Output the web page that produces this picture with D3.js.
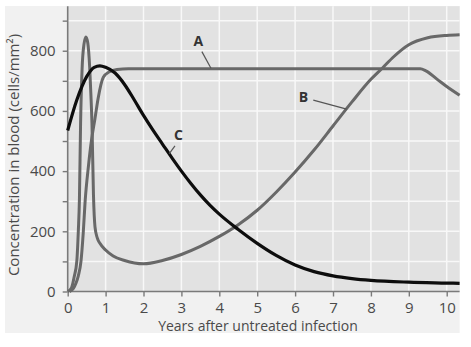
<!DOCTYPE html>
<html>
<head>
<meta charset="utf-8">
<script src="https://cdn.jsdelivr.net/npm/d3@7"></script>
<style>
  html, body { margin: 0; padding: 0; background: #ffffff; }
  svg { display: block; }
  text { font-family: "Open Sans", "Noto Sans", sans-serif; }
</style>
</head>
<body>
<svg id="chart" width="471" height="347"></svg>
<script>
// Years after infection and blood concentration (cells/mm²) for the three curves
const seriesA = [
  [0.05, 0], [0.15, 10], [0.22, 28], [0.28, 52], [0.35, 100], [0.41, 195],
  [0.46, 300], [0.55, 420], [0.63, 505], [0.72, 575], [0.80, 640],
  [0.94, 712], [1.10, 730], [1.30, 738], [1.60, 740], [3.00, 740],
  [6.00, 740], [9.00, 740], [9.30, 740], [9.45, 733], [9.75, 705],
  [10.00, 681], [10.34, 652]
];
const seriesB = [
  [0.00, 0], [0.10, 12], [0.17, 48], [0.24, 100], [0.28, 200], [0.31, 310],
  [0.34, 560], [0.38, 740], [0.43, 822], [0.48, 846], [0.53, 826], [0.58, 745],
  [0.61, 660], [0.64, 560], [0.68, 320], [0.72, 215], [0.78, 178], [0.85, 160],
  [1.00, 138], [1.20, 118], [1.50, 103], [2.00, 92], [2.50, 103], [3.00, 123],
  [3.50, 150], [4.00, 183], [4.50, 222], [5.00, 270], [5.50, 330], [6.00, 397],
  [6.50, 470], [7.00, 550], [7.50, 630], [8.00, 705], [8.30, 742], [8.60, 780],
  [9.00, 820], [9.50, 843], [10.00, 851], [10.34, 853]
];
const seriesC = [
  [0.00, 535], [0.24, 636], [0.50, 714], [0.70, 745], [0.85, 750], [1.00, 745],
  [1.25, 726], [1.50, 688], [1.75, 638], [2.00, 585], [2.25, 536], [2.50, 490],
  [2.75, 444], [3.00, 400], [3.25, 359], [3.50, 321], [3.75, 287], [4.00, 257],
  [4.50, 206], [5.00, 160], [5.50, 120], [6.00, 88], [6.50, 66], [7.00, 52],
  [7.50, 43], [8.00, 37], [9.00, 31], [10.00, 28], [10.34, 27]
];

// Curve name tags: label anchor and leader line, in data units
const curveLabels = [
  { text: "A", x: 3.45, y: 833, from: [3.54, 797], to: [3.78, 742] },
  { text: "B", x: 6.22, y: 647, from: [6.48, 636], to: [7.36, 606] },
  { text: "C", x: 2.92, y: 523, from: [2.83, 484], to: [2.68, 458] }
];

const xTicks = [0, 1, 2, 3, 4, 5, 6, 7, 8, 9, 10];
const yTicks = [0, 100, 200, 300, 400, 500, 600, 700, 800, 900];
const yTickLabels = [0, 200, 400, 600, 800];

const svg = d3.select("#chart");
const plotLeft = 67.7, plotRight = 459.6, plotTop = 6.2, plotBottom = 291.5;

const x = d3.scaleLinear().domain([0, 10.34]).range([plotLeft, plotRight]);
const y = d3.scaleLinear().domain([0, 948]).range([plotBottom, plotTop]);

// outer light panel
svg.append("rect")
  .attr("x", 5).attr("y", 6).attr("width", plotRight - 5).attr("height", 327)
  .attr("fill", "#f1f1f1");

// plotting area
svg.append("rect")
  .attr("x", plotLeft).attr("y", plotTop)
  .attr("width", plotRight - plotLeft).attr("height", plotBottom - plotTop)
  .attr("fill", "#e2e2e2");

// grid
const grid = svg.append("g").attr("stroke", "#f8f8f8").attr("stroke-width", 1.5);
grid.selectAll("line.v").data(xTicks.filter(d => d > 0)).join("line").attr("class", "v")
  .attr("x1", d => x(d)).attr("x2", d => x(d))
  .attr("y1", plotTop).attr("y2", plotBottom);
grid.selectAll("line.h").data(yTicks.filter(d => d > 0)).join("line").attr("class", "h")
  .attr("x1", plotLeft).attr("x2", plotRight)
  .attr("y1", d => y(d)).attr("y2", d => y(d));

// axes
const xAxis = d3.axisBottom(x).tickValues(xTicks).tickSize(5).tickPadding(6).tickSizeOuter(0);
const yAxis = d3.axisLeft(y).tickValues(yTicks).tickSize(5).tickPadding(7).tickSizeOuter(0)
  .tickFormat(d => yTickLabels.includes(d) ? d : "");

const gx = svg.append("g").attr("transform", `translate(0,${plotBottom})`).call(xAxis);
const gy = svg.append("g").attr("transform", `translate(${plotLeft},0)`).call(yAxis);
[gx, gy].forEach(g => {
  g.select(".domain").attr("stroke", "#7a7a7a").attr("stroke-width", 1.6);
  g.selectAll(".tick line").attr("stroke", "#7a7a7a").attr("stroke-width", 1.4);
  g.selectAll(".tick text").attr("fill", "#4a4a4a")
    .style("font-family", "'Open Sans', sans-serif").style("font-size", "15px");
});
gx.select(".domain").attr("d", `M${plotLeft},0H${plotRight}`);
gy.select(".domain").attr("d", `M0,${plotBottom}V${plotTop}`);

// axis titles
svg.append("text")
  .attr("x", 258).attr("y", 331)
  .attr("text-anchor", "middle")
  .attr("fill", "#4a4a4a").style("font-size", "14px")
  .text("Years after untreated infection");

svg.append("text")
  .attr("transform", "translate(18.5,155) rotate(-90)")
  .attr("text-anchor", "middle")
  .attr("fill", "#4a4a4a").style("font-size", "15px")
  .text("Concentration in blood (cells/mm²)");

// curves
const line = d3.line().x(d => x(d[0])).y(d => y(d[1])).curve(d3.curveMonotoneX);
const plot = svg.append("g");
plot.append("path").datum(seriesA).attr("d", line)
  .attr("fill", "none").attr("stroke", "#686868").attr("stroke-width", 3);
plot.append("path").datum(seriesB).attr("d", line)
  .attr("fill", "none").attr("stroke", "#686868").attr("stroke-width", 3);
plot.append("path").datum(seriesC).attr("d", line)
  .attr("fill", "none").attr("stroke", "#0d0d0d").attr("stroke-width", 3.2);

// curve tags
const tags = svg.append("g");
tags.selectAll("line").data(curveLabels).join("line")
  .attr("x1", d => x(d.from[0])).attr("y1", d => y(d.from[1]))
  .attr("x2", d => x(d.to[0])).attr("y2", d => y(d.to[1]))
  .attr("stroke", "#555").attr("stroke-width", 1.2);
tags.selectAll("text").data(curveLabels).join("text")
  .attr("x", d => x(d.x)).attr("y", d => y(d.y))
  .attr("text-anchor", "middle").attr("dominant-baseline", "central")
  .attr("fill", "#333").style("font-size", "14px").style("font-weight", "bold")
  .text(d => d.text);
</script>
</body>
</html>
